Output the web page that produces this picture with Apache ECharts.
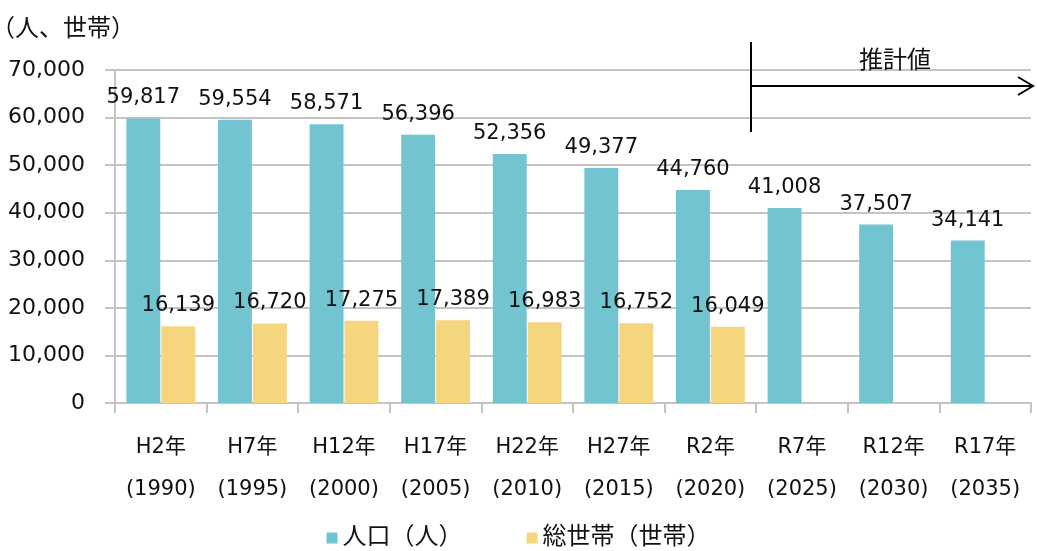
<!DOCTYPE html>
<html>
<head>
<meta charset="utf-8">
<script src="https://cdn.jsdelivr.net/npm/echarts@6/dist/echarts.min.js"></script>
<style>
  html, body { margin: 0; padding: 0; background: #fff; }
  #main { width: 1037px; height: 551px; }
</style>
</head>
<body>
<div id="main"></div>
<script>
  // データ
  var categories = ['H2年\n(1990)', 'H7年\n(1995)', 'H12年\n(2000)', 'H17年\n(2005)', 'H22年\n(2010)',
                    'H27年\n(2015)', 'R2年\n(2020)', 'R7年\n(2025)', 'R12年\n(2030)', 'R17年\n(2035)'];
  var population = [59817, 59554, 58571, 56396, 52356, 49377, 44760, 41008, 37507, 34141];
  var households = [16139, 16720, 17275, 17389, 16983, 16752, 16049, null, null, null];

  var font = '"DejaVu Sans", "Noto Sans CJK JP", sans-serif';
  var chart = echarts.init(document.getElementById('main'));

  var labelStyle = {
    show: true,
    position: 'top',
    distance: 10,
    fontSize: 21,
    fontFamily: font,
    color: '#111',
    formatter: function (p) { return p.value == null ? '' : p.value.toLocaleString('en-US'); }
  };

  chart.setOption({
    animation: false,
    textStyle: { fontFamily: font },
    grid: { left: 115, right: 6, top: 70, bottom: 148, outerBoundsMode: 'none', containLabel: false },
    legend: {
      bottom: -4,
      left: 'center',
      itemWidth: 11,
      itemHeight: 11,
      itemGap: 64,
      icon: 'rect',
      textStyle: { fontSize: 24, color: '#111', fontFamily: font },
      data: ['人口（人）', '総世帯（世帯）']
    },
    xAxis: {
      type: 'category',
      data: categories,
      axisLine: { lineStyle: { color: '#c4c4c4', width: 2 } },
      axisTick: { show: true, length: 10, lineStyle: { color: '#c4c4c4', width: 2 } },
      axisLabel: { fontSize: 21, color: '#111', lineHeight: 42, margin: 24, fontFamily: font }
    },
    yAxis: {
      type: 'value',
      min: 0,
      max: 70000,
      interval: 10000,
      name: '（人、世帯）',
      nameLocation: 'end',
      nameGap: 28,
      nameTextStyle: { fontSize: 24, color: '#111', align: 'right', padding: [0, -20, 0, 0], fontFamily: font },
      axisLine: { show: true, lineStyle: { color: '#c4c4c4', width: 2 } },
      axisTick: { show: true, length: 10, lineStyle: { color: '#c4c4c4', width: 2 } },
      splitLine: { lineStyle: { color: '#c4c4c4', width: 2 } },
      axisLabel: {
        fontSize: 22, color: '#111', margin: 30, fontFamily: font,
        formatter: function (v) { return v.toLocaleString('en-US'); }
      }
    },
    series: [
      {
        name: '人口（人）',
        type: 'bar',
        data: population,
        barWidth: '37%',
        barGap: '3%',
        itemStyle: { color: '#72c4d0' },
        label: labelStyle
      },
      {
        name: '総世帯（世帯）',
        type: 'bar',
        data: households,
        barWidth: '37%',
        itemStyle: { color: '#f5d57d' },
        label: labelStyle
      }
    ]
  });

  // 推計値の矢印
  var x0 = chart.convertToPixel({ xAxisIndex: 0 }, 7) - 51;
  var xEnd = 1033;
  chart.setOption({
    graphic: [
      { type: 'line', shape: { x1: x0, y1: 42, x2: x0, y2: 132 }, style: { stroke: '#000', lineWidth: 2 } },
      { type: 'line', shape: { x1: x0, y1: 86, x2: xEnd, y2: 86 }, style: { stroke: '#000', lineWidth: 2 } },
      { type: 'polyline', shape: { points: [[xEnd - 15, 77], [xEnd, 86], [xEnd - 15, 95]] }, style: { stroke: '#000', lineWidth: 2, fill: null } },
      { type: 'text', x: 895, y: 62, style: { text: '推計値', fontSize: 24, fontFamily: font, fill: '#111', align: 'center', verticalAlign: 'middle' } }
    ]
  });
</script>
</body>
</html>
